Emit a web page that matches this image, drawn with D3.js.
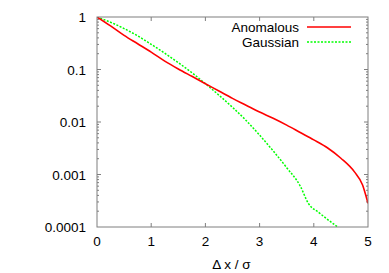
<!DOCTYPE html>
<html>
<head>
  <meta charset="utf-8">
  <title>Anomalous vs Gaussian</title>
  <style>
    body { margin: 0; background: #fff; }
    text { font-family: "Liberation Sans", Arial, sans-serif; fill: #000; }
  </style>
</head>
<body>
  <svg id="main" width="389" height="273"></svg>
  <script src="https://cdn.jsdelivr.net/npm/d3@7"></script>
  <script>
    // x values (Δx/σ) and log10 of the probabilities
    const anomX = [0, 0.25, 0.5, 0.75, 1, 1.25, 1.5, 1.75, 2, 2.25, 2.5, 2.75, 3, 3.25, 3.5, 3.75, 4, 4.25, 4.5, 4.75, 4.9, 5]
    const anomLog = [0, -0.17, -0.35, -0.51, -0.67, -0.84, -0.99, -1.13, -1.27, -1.41, -1.55, -1.68, -1.81, -1.93, -2.06, -2.2, -2.34, -2.49, -2.69, -2.95, -3.2, -3.55]
    const gaussX = [0, 0.25, 0.5, 0.75, 1, 1.25, 1.5, 1.75, 2, 2.25, 2.5, 2.75, 3, 3.25, 3.5, 3.75, 3.9, 4.1, 4.44, 4.6]
    const gaussLog = [0, -0.1, -0.22, -0.36, -0.52, -0.69, -0.87, -1.06, -1.27, -1.49, -1.72, -1.97, -2.25, -2.55, -2.87, -3.22, -3.55, -3.73, -4.0, -4.12]
    const xTicks = [0, 1, 2, 3, 4, 5]
    const yTicks = [1, 0.1, 0.01, 0.001, 0.0001]
    const yTickLabels = ['1', '0.1', '0.01', '0.001', '0.0001']

    const anomalous = anomX.map((x, i) => ({ x, y: Math.pow(10, anomLog[i]) }))
    const gaussian = gaussX.map((x, i) => ({ x, y: Math.pow(10, gaussLog[i]) }))

    const svg = d3.select('#main')
    const margin = { top: 17, left: 97, right: 21, bottom: 46 }
    const width = 389, height = 273
    const innerWidth = width - margin.left - margin.right
    const innerHeight = height - margin.top - margin.bottom
    const axisColor = '#7f7f7f'
    const fontSize = '13.5px'

    const x = d3.scaleLinear().domain([0, 5]).range([0, innerWidth])
    const y = d3.scaleLog().domain([0.0001, 1]).range([innerHeight, 0])

    const chart = svg.append('g')
      .attr('transform', `translate(${margin.left},${margin.top})`)

    chart.append('clipPath').attr('id', 'clip')
      .append('rect').attr('width', innerWidth).attr('height', innerHeight)

    // ticks point inward and are mirrored on all sides
    const minor = []
    for (let e = -4; e < 0; e++) {
      for (let k = 2; k < 10; k++) minor.push(k * Math.pow(10, e))
    }
    const tickG = chart.append('g').attr('stroke', axisColor).attr('stroke-width', 1)
    xTicks.slice(1, -1).forEach(t => {
      tickG.append('line').attr('x1', x(t)).attr('x2', x(t)).attr('y1', innerHeight).attr('y2', innerHeight - 4)
      tickG.append('line').attr('x1', x(t)).attr('x2', x(t)).attr('y1', 0).attr('y2', 4)
    })
    yTicks.slice(1, -1).forEach(t => {
      tickG.append('line').attr('x1', 0).attr('x2', 4).attr('y1', y(t)).attr('y2', y(t))
      tickG.append('line').attr('x1', innerWidth).attr('x2', innerWidth - 4).attr('y1', y(t)).attr('y2', y(t))
    })
    minor.forEach(t => {
      tickG.append('line').attr('x1', 0).attr('x2', 2).attr('y1', y(t)).attr('y2', y(t))
      tickG.append('line').attr('x1', innerWidth).attr('x2', innerWidth - 2).attr('y1', y(t)).attr('y2', y(t))
    })

    chart.append('g')
      .selectAll('text')
      .data(xTicks)
      .join('text')
      .attr('x', d => x(d))
      .attr('y', innerHeight + 19)
      .attr('text-anchor', 'middle')
      .attr('font-size', fontSize)
      .text(d => d)

    chart.append('g')
      .selectAll('text')
      .data(yTicks)
      .join('text')
      .attr('x', -11)
      .attr('y', d => y(d) + 5)
      .attr('text-anchor', 'end')
      .attr('font-size', fontSize)
      .text((d, i) => yTickLabels[i])

    chart.append('text')
      .attr('x', innerWidth / 2 - 1)
      .attr('y', innerHeight + 42)
      .attr('text-anchor', 'middle')
      .attr('font-size', fontSize)
      .text('Δ x / σ')

    const line = d3.line()
      .x(d => x(d.x))
      .y(d => y(d.y))
      .curve(d3.curveMonotoneX)

    const plot = chart.append('g').attr('clip-path', 'url(#clip)')
    plot.append('path')
      .datum(gaussian)
      .attr('fill', 'none')
      .attr('stroke', '#00ff00')
      .attr('stroke-width', 1.5)
      .attr('stroke-dasharray', '2,1.5')
      .attr('d', line)
    plot.append('path')
      .datum(anomalous)
      .attr('fill', 'none')
      .attr('stroke', '#ff0000')
      .attr('stroke-width', 1.6)
      .attr('d', line)

    chart.append('rect')
      .attr('width', innerWidth)
      .attr('height', innerHeight)
      .attr('fill', 'none')
      .attr('stroke', axisColor)
      .attr('stroke-width', 1)

    // legend
    const legend = [
      { name: 'Anomalous', color: '#ff0000', dash: null },
      { name: 'Gaussian', color: '#00ff00', dash: '2,1.5' }
    ]
    const lg = svg.append('g')
    legend.forEach((d, i) => {
      const ly = 27 + i * 15
      lg.append('text')
        .attr('x', 299)
        .attr('y', ly + 5)
        .attr('text-anchor', 'end')
        .attr('font-size', fontSize)
        .text(d.name)
      lg.append('line')
        .attr('x1', 307).attr('x2', 351)
        .attr('y1', ly).attr('y2', ly)
        .attr('stroke', d.color)
        .attr('stroke-width', 1.5)
        .attr('stroke-dasharray', d.dash)
    })
  </script>
</body>
</html>
